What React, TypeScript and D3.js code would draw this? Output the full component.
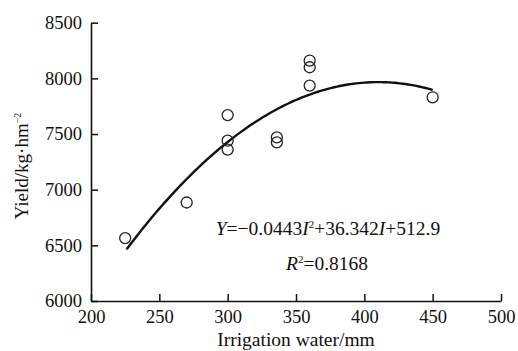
import React, { useEffect, useRef } from 'react';
import * as d3 from 'd3';

// measured points (irrigation water mm, yield kg/hm2)
const irrigation = [225, 270, 300, 300, 300, 336, 336, 360, 360, 360, 450];
const yieldValues = [6565, 6885, 7670, 7440, 7360, 7470, 7425, 8160, 8100, 7935, 7830];

// fitted quadratic, as printed in the chart
const fitCoef = [-0.0443, 36.342, 512.9];
const fitRange = [226, 450];

const xTicks = [200, 250, 300, 350, 400, 450, 500];
const yTicks = [6000, 6500, 7000, 7500, 8000, 8500];

const W = 518;
const H = 351;
const left = 91;
const right = 501;
const top = 22.7;
const bottom = 301;
const font = "'Liberation Serif', 'Times New Roman', serif";

export default function App() {
  const ref = useRef<SVGSVGElement>(null);

  useEffect(() => {
    const svg = d3.select(ref.current);
    svg.selectAll('*').remove();

    const x = d3.scaleLinear().domain([200, 500]).range([left, right]);
    const y = d3.scaleLinear().domain([6000, 8500]).range([bottom, top]);

    const xAxis = d3.axisBottom(x).tickValues(xTicks).tickSizeInner(-7).tickSizeOuter(0).tickPadding(9).tickFormat(d3.format('d'));
    const yAxis = d3.axisLeft(y).tickValues(yTicks).tickSizeInner(-7).tickSizeOuter(0).tickPadding(9).tickFormat(d3.format('d'));

    const gx = svg.append('g').attr('transform', 'translate(0,' + bottom + ')').call(xAxis);
    const gy = svg.append('g').attr('transform', 'translate(' + left + ',0)').call(yAxis);

    [gx, gy].forEach(g => {
      g.attr('font-family', null).attr('font-size', null);
      g.select('.domain').attr('stroke', '#111').attr('stroke-width', 1.6);
      g.selectAll('.tick line').attr('stroke', '#111').attr('stroke-width', 1.5);
      g.selectAll('text')
        .attr('fill', '#111')
        .attr('font-family', font)
        .attr('font-size', 18.5)
        .style('font-family', font);
    });

    // fitted curve
    const fit = (i: number) => fitCoef[0] * i * i + fitCoef[1] * i + fitCoef[2];
    const samples = d3.range(fitRange[0], fitRange[1] + 0.5, 2);
    const line = d3.line<number>().x(d => x(d)).y(d => y(fit(d))).curve(d3.curveBasis);
    svg.append('path')
      .datum(samples)
      .attr('d', line)
      .attr('fill', 'none')
      .attr('stroke', '#111')
      .attr('stroke-width', 2.4);

    // observed points
    svg.selectAll('circle.pt')
      .data(irrigation)
      .enter()
      .append('circle')
      .attr('class', 'pt')
      .attr('cx', d => x(d))
      .attr('cy', (d, i) => y(yieldValues[i]))
      .attr('r', 5.5)
      .attr('fill', 'none')
      .attr('stroke', '#222')
      .attr('stroke-width', 1.3);

    // equation text
    const eq = svg.append('text')
      .attr('x', 328).attr('y', 235)
      .attr('text-anchor', 'middle')
      .attr('font-family', font).attr('font-size', 19.5).attr('fill', '#111');
    eq.append('tspan').style('font-style', 'italic').text('Y');
    eq.append('tspan').text('=\u22120.0443');
    eq.append('tspan').style('font-style', 'italic').text('I');
    eq.append('tspan').attr('dy', -7).attr('font-size', 11).text('2');
    eq.append('tspan').attr('dy', 7).text('+36.342');
    eq.append('tspan').style('font-style', 'italic').text('I');
    eq.append('tspan').text('+512.9');

    const r2 = svg.append('text')
      .attr('x', 327).attr('y', 270)
      .attr('text-anchor', 'middle')
      .attr('font-family', font).attr('font-size', 19.5).attr('fill', '#111');
    r2.append('tspan').style('font-style', 'italic').text('R');
    r2.append('tspan').attr('dy', -7).attr('font-size', 11).text('2');
    r2.append('tspan').attr('dy', 7).text('=0.8168');

    // axis titles
    svg.append('text')
      .attr('x', (left + right) / 2).attr('y', 346)
      .attr('text-anchor', 'middle')
      .attr('font-family', font).attr('font-size', 19.5).attr('fill', '#111')
      .text('Irrigation water/mm');

    const yt = svg.append('text')
      .attr('transform', 'translate(28,166) rotate(-90)')
      .attr('text-anchor', 'middle')
      .attr('font-family', font).attr('font-size', 19).attr('fill', '#111');
    yt.append('tspan').text('Yield/kg\u00b7hm');
    yt.append('tspan').attr('dy', -7).attr('font-size', 10).text('\u22122');
  }, []);

  return (
    <svg ref={ref} width={W} height={H} style={{ position: 'absolute', left: 0, top: 0, background: '#fff' }} />
  );
}
